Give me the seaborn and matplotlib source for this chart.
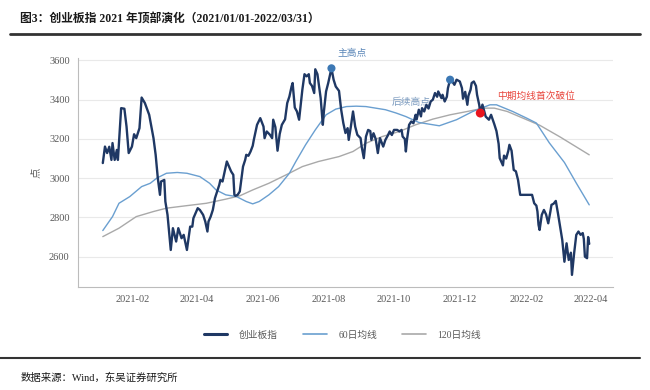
import numpy as np
import pandas as pd
import matplotlib
matplotlib.use('Agg')
import matplotlib.pyplot as plt
import matplotlib.dates as mdates
from matplotlib.lines import Line2D
import seaborn as sns

# 创业板指 daily close
idx_dates = ['2021-01-04', '2021-01-06', '2021-01-08', '2021-01-10', '2021-01-12', '2021-01-13', '2021-01-15',
             '2021-01-17', '2021-01-18', '2021-01-21', '2021-01-24', '2021-01-26', '2021-01-28', '2021-01-31',
             '2021-02-02', '2021-02-04', '2021-02-07', '2021-02-09', '2021-02-12', '2021-02-16', '2021-02-20',
             '2021-02-22', '2021-02-24', '2021-02-26', '2021-02-27', '2021-03-02', '2021-03-03', '2021-03-05',
             '2021-03-08', '2021-03-10', '2021-03-13', '2021-03-15', '2021-03-18', '2021-03-20', '2021-03-22',
             '2021-03-23', '2021-03-26', '2021-03-28', '2021-03-29', '2021-04-02', '2021-04-04', '2021-04-07',
             '2021-04-09', '2021-04-11', '2021-04-12', '2021-04-14', '2021-04-16', '2021-04-18', '2021-04-20',
             '2021-04-22', '2021-04-23', '2021-04-25', '2021-04-27', '2021-04-29', '2021-05-01', '2021-05-03',
             '2021-05-05', '2021-05-06', '2021-05-07', '2021-05-09', '2021-05-11', '2021-05-13', '2021-05-14',
             '2021-05-16', '2021-05-17', '2021-05-19', '2021-05-21', '2021-05-23', '2021-05-24', '2021-05-27',
             '2021-05-30', '2021-06-02', '2021-06-03', '2021-06-05', '2021-06-08', '2021-06-10', '2021-06-11',
             '2021-06-13', '2021-06-15', '2021-06-17', '2021-06-19', '2021-06-22', '2021-06-24', '2021-06-26',
             '2021-06-28', '2021-06-29', '2021-07-01', '2021-07-03', '2021-07-05', '2021-07-07', '2021-07-08',
             '2021-07-10', '2021-07-12', '2021-07-14', '2021-07-15', '2021-07-17', '2021-07-19', '2021-07-20',
             '2021-07-22', '2021-07-25', '2021-07-27', '2021-07-28', '2021-07-30', '2021-08-01', '2021-08-04',
             '2021-08-06', '2021-08-08', '2021-08-11', '2021-08-13', '2021-08-15', '2021-08-17', '2021-08-19',
             '2021-08-20', '2021-08-22', '2021-08-24', '2021-08-26', '2021-08-28', '2021-08-31', '2021-09-01',
             '2021-09-03', '2021-09-05', '2021-09-07', '2021-09-09', '2021-09-10', '2021-09-12', '2021-09-14',
             '2021-09-16', '2021-09-18', '2021-09-19', '2021-09-21', '2021-09-23', '2021-09-25', '2021-09-27',
             '2021-09-29', '2021-10-01', '2021-10-04', '2021-10-06', '2021-10-08', '2021-10-09', '2021-10-11',
             '2021-10-12', '2021-10-13', '2021-10-15', '2021-10-17', '2021-10-19', '2021-10-21', '2021-10-22',
             '2021-10-24', '2021-10-26', '2021-10-27', '2021-10-29', '2021-10-31', '2021-11-02', '2021-11-04',
             '2021-11-06', '2021-11-08', '2021-11-10', '2021-11-11', '2021-11-14', '2021-11-15', '2021-11-17',
             '2021-11-19', '2021-11-20', '2021-11-22', '2021-11-24', '2021-11-26', '2021-11-28', '2021-12-01',
             '2021-12-03', '2021-12-04', '2021-12-06', '2021-12-08', '2021-12-09', '2021-12-11', '2021-12-12',
             '2021-12-14', '2021-12-16', '2021-12-17', '2021-12-19', '2021-12-20', '2021-12-22', '2021-12-25',
             '2021-12-28', '2021-12-30', '2022-01-02', '2022-01-04', '2022-01-06', '2022-01-07', '2022-01-10',
             '2022-01-11', '2022-01-13', '2022-01-15', '2022-01-16', '2022-01-18', '2022-01-20', '2022-01-22',
             '2022-01-24', '2022-01-26', '2022-01-30', '2022-02-02', '2022-02-06', '2022-02-08', '2022-02-10',
             '2022-02-11', '2022-02-12', '2022-02-13', '2022-02-15', '2022-02-17', '2022-02-19', '2022-02-21',
             '2022-02-23', '2022-02-24', '2022-02-26', '2022-02-28', '2022-03-02', '2022-03-04', '2022-03-06',
             '2022-03-08', '2022-03-10', '2022-03-12', '2022-03-14', '2022-03-15', '2022-03-17', '2022-03-19',
             '2022-03-21', '2022-03-23', '2022-03-25', '2022-03-26', '2022-03-27', '2022-03-29', '2022-03-30',
             '2022-03-31']
idx_vals = [3077, 3161, 3128, 3160, 3093, 3179, 3093,
            3144, 3093, 3357, 3354, 3263, 3128, 3161,
            3224, 3204, 3255, 3411, 3383, 3323, 3204,
            3119, 3000, 2915, 2983, 2991, 2881, 2813,
            2634, 2745, 2677, 2745, 2694, 2711, 2660,
            2634, 2753, 2753, 2796, 2847, 2838, 2813,
            2779, 2728, 2779, 2804, 2838, 2898, 2932,
            2966, 2991, 2983, 3034, 3085, 3059, 3034,
            3017, 2915, 2910, 2915, 2932, 3017, 3059,
            3093, 3119, 3114, 3136, 3165, 3195, 3272,
            3306, 3263, 3204, 3238, 3221, 3204, 3298,
            3260, 3140, 3225, 3272, 3300, 3383, 3416,
            3467, 3485, 3360, 3340, 3298, 3400, 3450,
            3530, 3519, 3530, 3485, 3470, 3434, 3555,
            3530, 3408, 3272, 3340, 3442, 3485, 3560,
            3502, 3467, 3445, 3349, 3281, 3230, 3255,
            3195, 3263, 3340, 3263, 3221, 3204, 3161,
            3102, 3212, 3246, 3240, 3195, 3229, 3200,
            3128, 3204, 3190, 3161, 3195, 3215, 3238,
            3220, 3246, 3246, 3238, 3246, 3212, 3200,
            3136, 3195, 3272, 3289, 3280, 3323, 3300,
            3349, 3315, 3357, 3340, 3374, 3355, 3391,
            3400, 3434, 3415, 3442, 3408, 3425, 3391,
            3415, 3459, 3502, 3493, 3476, 3502, 3493,
            3459, 3405, 3440, 3374, 3420, 3451, 3485,
            3493, 3470, 3425, 3374, 3332, 3375, 3314,
            3298, 3323, 3275, 3240, 3175, 3102, 3065,
            3115, 3100, 3140, 3170, 3140, 3042, 3035,
            2991, 2915, 2915, 2915, 2915, 2872, 2860,
            2830, 2762, 2736, 2813, 2838, 2815, 2770,
            2830, 2864, 2870, 2884, 2821, 2753, 2685,
            2574, 2668, 2583, 2620, 2507, 2617, 2711,
            2728, 2711, 2720, 2690, 2600, 2592, 2700,
            2665]

# 60日均线
ma60_dates = ['2021-01-04', '2021-01-13', '2021-01-19', '2021-01-29', '2021-02-09', '2021-02-17', '2021-02-23',
              '2021-03-04', '2021-03-14', '2021-03-23', '2021-04-04', '2021-04-13', '2021-04-19', '2021-04-28',
              '2021-05-08', '2021-05-17', '2021-05-23', '2021-05-29', '2021-06-07', '2021-06-16', '2021-06-26',
              '2021-07-02', '2021-07-11', '2021-07-20', '2021-07-30', '2021-08-08', '2021-08-18', '2021-08-27',
              '2021-09-05', '2021-09-14', '2021-09-23', '2021-10-03', '2021-10-12', '2021-10-24', '2021-11-12',
              '2021-11-28', '2021-12-13', '2021-12-29', '2022-01-04', '2022-01-19', '2022-02-01', '2022-02-10',
              '2022-02-22', '2022-03-08', '2022-03-19', '2022-03-31']
ma60_vals = [2733, 2804, 2872, 2906, 2957, 2974, 3000,
             3025, 3029, 3025, 3008, 2974, 2940, 2915,
             2906, 2881, 2869, 2881, 2915, 2957, 3025,
             3085, 3170, 3246, 3323, 3352, 3365, 3367,
             3365, 3357, 3349, 3332, 3314, 3284, 3267,
             3298, 3340, 3374, 3374, 3340, 3306, 3281,
             3180, 3080, 2975, 2864]

# 120日均线
ma120_dates = ['2021-01-04', '2021-01-19', '2021-02-04', '2021-02-20', '2021-03-04', '2021-03-23', '2021-04-10',
               '2021-04-28', '2021-05-11', '2021-05-23', '2021-06-07', '2021-06-23', '2021-07-08', '2021-07-23',
               '2021-08-11', '2021-08-24', '2021-09-05', '2021-09-20', '2021-10-06', '2021-10-21', '2021-11-06',
               '2021-11-22', '2021-12-08', '2021-12-23', '2022-01-02', '2022-01-14', '2022-02-01', '2022-02-13',
               '2022-03-04', '2022-03-31']
ma120_vals = [2702, 2745, 2804, 2830, 2847, 2860, 2872,
              2893, 2910, 2940, 2974, 3017, 3059, 3085,
              3110, 3136, 3178, 3212, 3238, 3272, 3301,
              3323, 3340, 3357, 3357, 3340, 3298, 3270,
              3210, 3119]

# highlighted points
high_dates = ['2021-08-04', '2021-11-22']
high_vals = [3560, 3502]
break_date = ['2021-12-20']
break_val = [3332]

df_idx = pd.DataFrame({'date': pd.to_datetime(idx_dates), 'val': idx_vals})
df_60 = pd.DataFrame({'date': pd.to_datetime(ma60_dates), 'val': ma60_vals})
df_120 = pd.DataFrame({'date': pd.to_datetime(ma120_dates), 'val': ma120_vals})
df_high = pd.DataFrame({'date': pd.to_datetime(high_dates), 'val': high_vals})
df_break = pd.DataFrame({'date': pd.to_datetime(break_date), 'val': break_val})

sns.set_theme(style='white')
plt.rcParams['font.family'] = ['Liberation Serif', 'Noto Sans CJK SC', 'DejaVu Sans']
plt.rcParams['axes.unicode_minus'] = False

c_idx = '#1f3864'
c_60 = '#6a9fd0'
c_120 = '#a9a9a9'

fig = plt.figure(figsize=(6.5, 3.9), dpi=100)
ax = fig.add_axes([0.12, 0.265, 0.823, 0.586])

sns.lineplot(data=df_120, x='date', y='val', ax=ax, color=c_120, lw=1.0, zorder=2)
sns.lineplot(data=df_60, x='date', y='val', ax=ax, color=c_60, lw=1.0, zorder=2)
sns.lineplot(data=df_idx, x='date', y='val', ax=ax, color=c_idx, lw=1.7, zorder=4)
sns.scatterplot(data=df_high, x='date', y='val', ax=ax, color='#3c78b4', s=34, edgecolor='none', zorder=5)
sns.scatterplot(data=df_break, x='date', y='val', ax=ax, color='#e8141e', s=42, edgecolor='none', zorder=5)

ax.set_xlim(pd.Timestamp('2020-12-12'), pd.Timestamp('2022-04-22'))
ax.set_ylim(2447, 3612)
ax.set_yticks([2600, 2800, 3000, 3200, 3400, 3600])
ax.xaxis.set_major_locator(mdates.MonthLocator(bymonth=[2, 4, 6, 8, 10, 12]))
ax.xaxis.set_major_formatter(mdates.DateFormatter('%Y-%m'))

ax.grid(axis='y', color='#e9e9e9', lw=0.8)
ax.grid(axis='x', visible=False)
for s in ['top', 'right']:
    ax.spines[s].set_visible(False)
for s in ['left', 'bottom']:
    ax.spines[s].set_color('#bcbcbc')
    ax.spines[s].set_linewidth(0.8)
ax.tick_params(axis='both', colors='#bcbcbc', length=3, width=0.8, labelsize=7.5, labelcolor='#595959', pad=3)
ax.set_xlabel('')
ax.set_ylabel('点', fontsize=7.5, color='#595959', labelpad=6)

# annotations
ax.annotate('主高点', xy=(df_high['date'][0], high_vals[0]), xytext=(15, 11), textcoords='offset points',
            ha='center', va='center', fontsize=7, color='#5a86b8', annotation_clip=False, zorder=3)
ax.annotate('后续高点', xy=(df_high['date'][1], high_vals[1]), xytext=(-28, -16), textcoords='offset points',
            ha='center', va='center', fontsize=7, color='#7d9cc0', zorder=3)
ax.annotate('中期均线首次破位', xy=(df_break['date'][0], break_val[0]), xytext=(40, 12), textcoords='offset points',
            ha='center', va='center', fontsize=7, color='#e8453c', zorder=3)

# legend
handles = [Line2D([], [], color=c_idx, lw=2.2), Line2D([], [], color=c_60, lw=1.2),
           Line2D([], [], color=c_120, lw=1.2)]
labels = ['创业板指', '60日均线', '120日均线']
fig.legend(handles, labels, loc='center', bbox_to_anchor=(0.527, 0.141), ncol=3, frameon=False,
           fontsize=7, labelcolor='#595959', handlelength=2.4, columnspacing=2.6, handletextpad=1.2)

# header / footer
fig.text(0.031, 0.953, '图3：创业板指 2021 年顶部演化（2021/01/01-2022/03/31）', fontsize=8.5,
         fontweight='bold', color='#1a1a1a', ha='left', va='center')
fig.add_artist(Line2D([0.015, 0.985], [0.913, 0.913], color='#333333', lw=2.0))
fig.add_artist(Line2D([0.0, 0.985], [0.083, 0.083], color='#333333', lw=1.5))
fig.text(0.031, 0.031, '数据来源：Wind，东吴证券研究所', fontsize=7.5, color='#1a1a1a', ha='left', va='center')

fig.savefig('out.png', dpi=100)
